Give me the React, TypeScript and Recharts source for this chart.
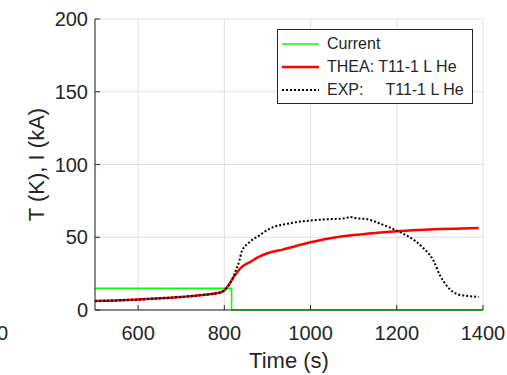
import { CartesianGrid, Legend, Line, LineChart, XAxis, YAxis } from "recharts";

// Current (kA)
const currentTime = [500, 817, 817, 1400];
const currentVal = [15, 15, 0, 0];

// THEA: T11-1 L He (K)
const theaTime = [500, 550, 600, 650, 700, 750, 790, 800, 810, 820, 830, 840, 860, 880, 900, 935, 1000, 1050, 1100, 1150, 1200, 1250, 1300, 1350, 1390];
const theaVal = [6.2, 6.6, 7.2, 8, 9, 10.3, 12, 13.5, 17, 22, 26, 29.5, 33, 36.5, 39, 41.5, 46.5, 49.5, 51.5, 53, 54.2, 55, 55.6, 56, 56.3];

// EXP: T11-1 L He (K)
const expTime = [500, 550, 600, 650, 700, 750, 790, 800, 810, 820, 825, 835, 840, 860, 880, 906, 950, 1000, 1050, 1080, 1092, 1100, 1110, 1130, 1160, 1200, 1230, 1260, 1285, 1300, 1315, 1330, 1345, 1370, 1390];
const expVal = [6.2, 6.6, 7.2, 8, 9, 10.3, 12, 13.5, 17, 22, 26, 34, 40, 47, 51, 56, 59.5, 61.5, 62.5, 63, 64, 63.5, 63, 62.5, 59.5, 54.5, 50, 43, 34, 24, 17, 12.5, 10.5, 9.5, 9];

const xTicks = [600, 800, 1000, 1200, 1400];
const yTicks = [0, 50, 100, 150, 200];

const toPoints = (t: number[], v: number[]) => t.map((x, i) => ({ t: x, v: v[i] }));

const FONT = '"Liberation Sans", Arial, Helvetica, sans-serif';
const INK = "#262626";

const legendItems = [
  { name: "Current", color: "#00ff00", width: 1.5, dash: undefined as string | undefined },
  { name: "THEA: T11-1 L He", color: "#ff0000", width: 2.5, dash: undefined },
  { name: "EXP:     T11-1 L He", color: "#000000", width: 2, dash: "2 2" },
];

function LegendBox() {
  return (
    <div
      style={{
        border: `1.3px solid ${INK}`,
        background: "#fff",
        padding: "2px 0 2px 4px",
        fontFamily: FONT,
        fontSize: 16,
        color: INK,
        width: 190,
      }}
    >
      {legendItems.map((it) => (
        <div key={it.name} style={{ display: "flex", alignItems: "center", height: 23 }}>
          <svg width={37} height={6} style={{ marginRight: 8 }}>
            <line x1={0} y1={3} x2={37} y2={3} stroke={it.color} strokeWidth={it.width} strokeDasharray={it.dash} />
          </svg>
          <span style={{ whiteSpace: "pre" }}>{it.name}</span>
        </div>
      ))}
    </div>
  );
}

export default function App() {
  const tickStyle = { fontSize: 20, fill: INK, fontFamily: FONT };
  return (
    <div style={{ position: "absolute", left: 0, top: 0, width: 507, height: 375, background: "#fff" }}>
      <LineChart width={507} height={375} margin={{ top: 19, right: 24, bottom: 35, left: 35 }}>
        <CartesianGrid stroke="#e0e0e0" strokeWidth={1} />
        <XAxis
          xAxisId={0}
          dataKey="t"
          type="number"
          domain={[500, 1400]}
          ticks={xTicks}
          allowDataOverflow
          height={30}
          stroke={INK}
          tickSize={-5}
          tickMargin={21}
          tick={tickStyle}
          label={(p: any) => {
            const vb = p.viewBox;
            return (
              <text x={vb.x + vb.width / 2} y={vb.y + 58} textAnchor="middle" fontSize={22} fill={INK} fontFamily={FONT}>
                Time (s)
              </text>
            );
          }}
        />
        <XAxis
          xAxisId="top"
          orientation="top"
          type="number"
          domain={[500, 1400]}
          ticks={xTicks}
          height={0}
          stroke={INK}
          tickSize={-5}
          tick={false}
        />
        <YAxis
          yAxisId={0}
          type="number"
          domain={[0, 200]}
          ticks={yTicks}
          width={60}
          stroke={INK}
          tickSize={-5}
          tickMargin={12}
          tick={tickStyle}
          label={(p: any) => {
            const vb = p.viewBox;
            const cx = vb.x + 1;
            const cy = vb.y + vb.height / 2;
            return (
              <text
                x={cx}
                y={cy}
                transform={`rotate(-90 ${cx} ${cy})`}
                textAnchor="middle"
                dominantBaseline="central"
                fontSize={22}
                fill={INK}
                fontFamily={FONT}
              >
                T (K), I (kA)
              </text>
            );
          }}
        />
        <YAxis
          yAxisId="right"
          orientation="right"
          type="number"
          domain={[0, 200]}
          ticks={yTicks}
          width={0}
          stroke={INK}
          tickSize={-5}
          tick={false}
        />
        <Legend
          layout="vertical"
          align="center"
          verticalAlign="middle"
          content={() => <LegendBox />}
          wrapperStyle={{ position: "absolute", top: 29, left: 277, width: 196, height: "auto" }}
        />
        <Line
          data={toPoints(currentTime, currentVal)}
          dataKey="v"
          name="Current"
          type="linear"
          stroke="#00ff00"
          strokeWidth={1.5}
          dot={false}
          isAnimationActive={false}
        />
        <Line
          data={toPoints(theaTime, theaVal)}
          dataKey="v"
          name="THEA: T11-1 L He"
          type="monotone"
          stroke="#ff0000"
          strokeWidth={2.5}
          dot={false}
          isAnimationActive={false}
        />
        <Line
          data={toPoints(expTime, expVal)}
          dataKey="v"
          name="EXP: T11-1 L He"
          type="monotone"
          stroke="#000000"
          strokeWidth={2}
          strokeDasharray="2 2"
          dot={false}
          isAnimationActive={false}
        />
      </LineChart>
      <div
        style={{
          position: "absolute",
          left: -3,
          top: 323,
          fontSize: 20,
          lineHeight: "20px",
          fontFamily: FONT,
          color: INK,
        }}
      >
        0
      </div>
    </div>
  );
}
